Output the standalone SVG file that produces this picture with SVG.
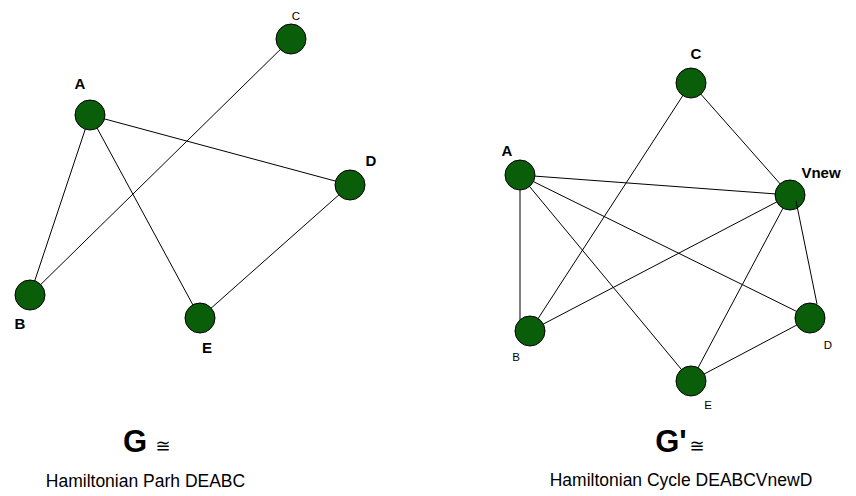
<svg xmlns="http://www.w3.org/2000/svg" width="856" height="496" viewBox="0 0 856 496">
<style>
.n{fill:#0a5e0a;stroke:#000;stroke-width:1}
.e{stroke:#000;stroke-width:1;fill:none}
.lb{font-family:"Liberation Sans",Arial,sans-serif;font-weight:bold;font-size:15px;fill:#000}
.ls{font-family:"Liberation Sans",Arial,sans-serif;font-size:11.5px;fill:#000}
.big{font-family:"Liberation Sans",Arial,sans-serif;font-weight:bold;font-size:31px;fill:#000}
.cap{font-family:"Liberation Sans",Arial,sans-serif;font-size:17.5px;fill:#000}
.cong{font-family:"DejaVu Sans",sans-serif;font-size:18px;fill:#000}
</style>
<rect width="856" height="496" fill="#fff"/>
<g id="connectors">
<line class="e" x1="90" y1="115" x2="30" y2="295"/>
<line class="e" x1="90" y1="115" x2="200" y2="318"/>
<line class="e" x1="90" y1="115" x2="350" y2="185"/>
<line class="e" x1="291" y1="39" x2="30" y2="295"/>
<line class="e" x1="200" y1="318" x2="350" y2="185"/>
<line class="e" x1="691" y1="83" x2="530" y2="331"/>
<line class="e" x1="691" y1="83" x2="790" y2="195"/>
<line class="e" x1="520" y1="175" x2="790" y2="195"/>
<line class="e" x1="520" y1="175" x2="520" y2="331"/>
<line class="e" x1="520" y1="175" x2="691" y2="381"/>
<line class="e" x1="520" y1="175" x2="810" y2="318"/>
<line class="e" x1="790" y1="195" x2="530" y2="331"/>
<line class="e" x1="790" y1="195" x2="691" y2="381"/>
<line class="e" x1="691" y1="381" x2="810" y2="318"/>
</g>
<g id="G-C"><circle class="n" cx="291" cy="39" r="15"/><text class="ls" x="296" y="20" text-anchor="middle">C</text></g>
<g id="G-A"><circle class="n" cx="90" cy="115" r="15"/><text class="lb" x="80" y="89" text-anchor="middle">A</text></g>
<g id="G-D"><circle class="n" cx="350" cy="185" r="15"/><text class="lb" x="371" y="166" text-anchor="middle">D</text></g>
<g id="G-B"><circle class="n" cx="30" cy="295" r="15"/><text class="lb" x="20" y="329" text-anchor="middle">B</text></g>
<g id="G-E"><circle class="n" cx="200" cy="318" r="15"/><text class="lb" x="207" y="353" text-anchor="middle">E</text></g>
<g id="H-C"><circle class="n" cx="691" cy="83" r="15"/><text class="lb" x="696" y="59" text-anchor="middle">C</text></g>
<g id="H-A"><circle class="n" cx="520" cy="175" r="15"/><text class="lb" x="507" y="156" text-anchor="middle">A</text></g>
<g id="H-Vnew"><circle class="n" cx="790" cy="195" r="15"/><text class="lb" x="821" y="178" text-anchor="middle">Vnew</text></g>
<g id="H-B"><circle class="n" cx="530" cy="331" r="15"/><text class="ls" x="516" y="361" text-anchor="middle">B</text></g>
<g id="H-D"><circle class="n" cx="810" cy="318" r="15"/><text class="ls" x="828" y="349" text-anchor="middle">D</text></g>
<g id="H-E"><circle class="n" cx="691" cy="381" r="15"/><text class="ls" x="708" y="409" text-anchor="middle">E</text></g>
<line class="e" x1="796" y1="201" x2="817" y2="304"/>
<text class="big" x="135" y="452" text-anchor="middle">G</text>
<text class="cong" x="163" y="452" text-anchor="middle">≅</text>
<text class="cap" x="145.5" y="487" text-anchor="middle">Hamiltonian Parh DEABC</text>
<text class="big" x="671" y="452" text-anchor="middle">G'</text>
<text class="cong" x="697" y="452" text-anchor="middle">≅</text>
<text class="cap" x="681" y="486" text-anchor="middle">Hamiltonian Cycle DEABCVnewD</text>
</svg>
